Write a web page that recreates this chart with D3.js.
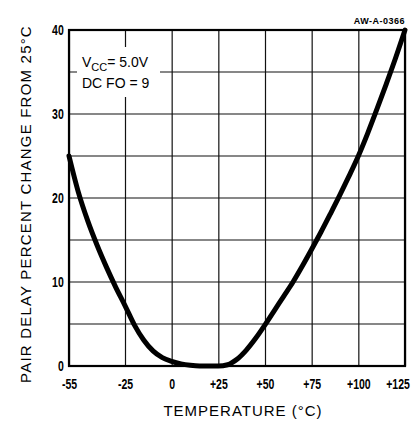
<!DOCTYPE html>
<html>
<head>
<meta charset="utf-8">
<script src="https://cdn.jsdelivr.net/npm/d3@7"></script>
<style>
  body { margin: 0; background: #fff; }
  svg { display: block; }
</style>
</head>
<body>
<div id="chart"></div>
<script>
// temperature (°C) vs pair delay percent change from 25°C
const temps = [-55, -50, -45, -40, -35, -30, -25, -20, -15, -10, -5, 0, 5, 10, 15, 20, 25, 30, 35, 40, 45, 50, 55, 60, 65, 70, 75, 80, 85, 90, 95, 100, 105, 110, 115, 120, 125]
const delayChange = [25, 20.7, 17.3, 14.4, 11.8, 9.4, 7.2, 4.9, 3.1, 1.8, 1.0, 0.55, 0.25, 0.08, 0, 0, 0, 0.15, 0.8, 1.9, 3.3, 4.9, 6.6, 8.3, 10.0, 11.9, 13.9, 15.95, 18.1, 20.3, 22.6, 25, 27.7, 30.6, 33.6, 36.7, 40]
const xTicks = [-55, -25, 0, 25, 50, 75, 100, 125]
const xTickLabels = ['-55', '-25', '0', '+25', '+50', '+75', '+100', '+125']
const yGrid = [0, 5, 10, 15, 20, 25, 30, 35, 40]
const yTickLabels = [0, 10, 20, 30, 40]

const width = 420
const height = 421
const margin = { top: 30, right: 15, bottom: 55, left: 69 }
const w = width - margin.left - margin.right
const h = height - margin.top - margin.bottom

const svg = d3.select('#chart').append('svg').attr('width', width).attr('height', height)
const g = svg.append('g').attr('transform', `translate(${margin.left},${margin.top})`)

const x = d3.scaleLinear().domain([-55, 125]).range([0, w])
const y = d3.scaleLinear().domain([0, 40]).range([h, 0])

const textFont = '"Liberation Sans", Arial, sans-serif'

// vertical grid + x labels
const xAxis = g
  .append('g')
  .attr('transform', `translate(0,${h})`)
  .call(
    d3
      .axisBottom(x)
      .tickValues(xTicks)
      .tickFormat((d, i) => xTickLabels[i])
      .tickSize(-h)
      .tickPadding(13)
  )
xAxis.select('.domain').remove()
xAxis.selectAll('line').attr('stroke', '#111').attr('stroke-width', 1.2)
xAxis
  .selectAll('text')
  .attr('fill', '#000')
  .attr('x', (d) => (d === 125 ? -10 : 0))
  .attr('transform', 'scale(0.75,1)')
  .style('font-family', textFont)
  .style('font-weight', 'bold')
  .style('font-size', '14px')

// horizontal grid
g.append('g')
  .selectAll('line')
  .data(yGrid)
  .enter()
  .append('line')
  .attr('x1', 0)
  .attr('x2', w)
  .attr('y1', (d) => y(d))
  .attr('y2', (d) => y(d))
  .attr('stroke', '#111')
  .attr('stroke-width', 1.2)

// y labels
const yAxis = g.append('g').call(d3.axisLeft(y).tickValues(yTickLabels).tickSize(0).tickPadding(7))
yAxis.select('.domain').remove()
yAxis
  .selectAll('text')
  .attr('fill', '#000')
  .attr('transform', 'scale(0.75,1)')
  .style('font-family', textFont)
  .style('font-weight', 'bold')
  .style('font-size', '14px')

// frame
g.append('rect')
  .attr('x', 0)
  .attr('y', 0)
  .attr('width', w)
  .attr('height', h)
  .attr('fill', 'none')
  .attr('stroke', '#000')
  .attr('stroke-width', 2.2)

// white box behind the note
g.append('rect').attr('x', 8).attr('y', 17).attr('width', 83).attr('height', 50).attr('fill', '#fff')

const note = g.append('text').attr('x', 13).attr('y', 37).style('font-family', textFont).style('font-size', '14px').attr('fill', '#000')
note.append('tspan').text('V')
note.append('tspan').attr('dy', 4).style('font-size', '11px').text('CC')
note.append('tspan').attr('dy', -4).text('= 5.0V')
g.append('text').attr('x', 13).attr('y', 58).style('font-family', textFont).style('font-size', '14px').attr('fill', '#000').text('DC  FO  = 9')

// curve
const line = d3
  .line()
  .x((d, i) => x(temps[i]))
  .y((d) => y(d))
  .curve(d3.curveMonotoneX)
g.append('path')
  .datum(delayChange)
  .attr('d', line)
  .attr('fill', 'none')
  .attr('stroke', '#000')
  .attr('stroke-width', 5)
  .attr('stroke-linecap', 'round')

// drawing number
svg
  .append('text')
  .attr('x', margin.left + w)
  .attr('y', 24)
  .attr('text-anchor', 'end')
  .style('font-family', textFont)
  .style('font-weight', 'bold')
  .style('font-size', '9px')
  .style('letter-spacing', '0.5px')
  .text('AW-A-0366')

// axis titles
svg
  .append('text')
  .attr('x', 243)
  .attr('y', 416)
  .attr('text-anchor', 'middle')
  .style('font-family', textFont)
  .style('font-size', '15px')
  .style('letter-spacing', '1px')
  .text('TEMPERATURE (°C)')

svg
  .append('text')
  .attr('transform', 'translate(31,204) rotate(-90)')
  .attr('text-anchor', 'middle')
  .style('font-family', textFont)
  .style('font-size', '15px')
  .style('letter-spacing', '1.2px')
  .text('PAIR DELAY PERCENT CHANGE FROM 25°C')
</script>
</body>
</html>
